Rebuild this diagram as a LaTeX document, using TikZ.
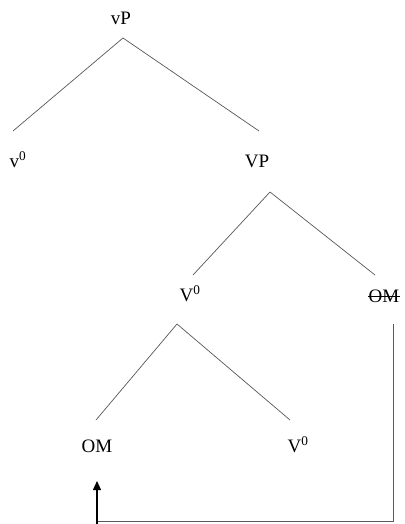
\documentclass[tikz,border=0pt]{standalone}
\usepackage{fontspec}
\setmainfont{Liberation Serif}
\usetikzlibrary{arrows.meta}
\tikzset{
	lbl/.style={anchor=base, inner sep=0pt, font=\fontsize{19}{22}\selectfont},
	branch/.style={line width=0.25mm, color=black!65},
	move/.style={line width=0.4mm, color=black, -{Triangle[length=9pt, width=8pt]}}
}

\begin{document}
\begin{tikzpicture}[x=1pt, y=-1pt]
		%%%%% START %%%%%
		\useasboundingbox (0, 0) rectangle (404, 524);
		
		\node[lbl] (vP) at (121, 25) {vP};
		\node[lbl] (v0) at (18, 167) {v\textsuperscript{0}};
		\node[lbl] (VP) at (257, 167) {VP};
		
		\draw[branch] ([shift={(2, 13)}]vP.base) -- ([shift={(-5, -36)}]v0.base);
		\draw[branch] ([shift={(2, 13)}]vP.base) -- ([shift={(2, -36)}]VP.base);
		
		\node[lbl] (V0) at (190, 301) {V\textsuperscript{0}};
		\node[lbl] (OMtrace) at (384, 302) {OM};
		\draw[line width=0.2mm] ([shift={(0, -6)}]OMtrace.base west) -- ([shift={(0, -6)}]OMtrace.base east);
		
		\draw[branch] ([shift={(13, 25)}]VP.base) -- ([shift={(3, -26)}]V0.base);
		\draw[branch] ([shift={(13, 25)}]VP.base) -- ([shift={(-9, -27)}]OMtrace.base);
		
		\node[lbl] (OM) at (97, 452) {OM};
		\node[lbl] (V0low) at (298, 452) {V\textsuperscript{0}};
		
		\draw[branch] ([shift={(-13, 23)}]V0.base) -- ([shift={(-1, -32)}]OM.base);
		\draw[branch] ([shift={(-13, 23)}]V0.base) -- ([shift={(-8, -32)}]V0low.base);
		
		% movement of the object marker
		\draw[branch] ([shift={(9, 22)}]OMtrace.base) |- ([shift={(0, 69)}]OM.base);
		\draw[move] ([shift={(0, 72)}]OM.base) -- ([shift={(0, 29)}]OM.base);
		
		%%%%% END %%%%%
	\end{tikzpicture}
\end{document}
